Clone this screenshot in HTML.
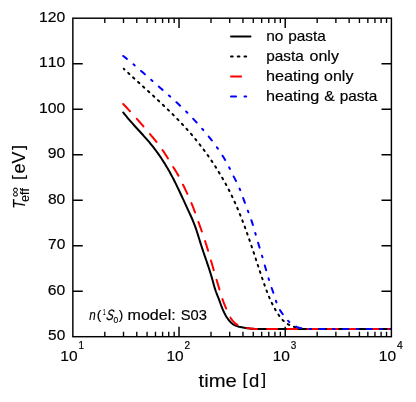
<!DOCTYPE html>
<html><head><meta charset="utf-8"><title>Teff vs time</title>
<style>html,body{margin:0;padding:0;background:#fff}svg{display:block;will-change:transform}text{font-family:"Liberation Sans",sans-serif;fill:#000;font-kerning:none;stroke:#000;stroke-width:0.18px}.big text{stroke-width:0.12px}</style>
</head><body>
<svg width="416" height="402" viewBox="0 0 416 402">
<rect x="0" y="0" width="416" height="402" fill="#fff"/>
<defs><clipPath id="ax"><rect x="72.85" y="18.2" width="318.54999999999995" height="318.5"/></clipPath></defs>
<g fill="none" stroke-width="2.0" stroke-linejoin="round" stroke-linecap="round" clip-path="url(#ax)">
<path d="M123.24,112.46 L124.08,113.54 L124.93,114.61 L125.78,115.67 L126.65,116.73 L127.52,117.77 L128.40,118.82 L129.29,119.85 L130.18,120.88 L131.08,121.91 L131.98,122.93 L132.89,123.94 L133.80,124.96 L134.72,125.97 L135.63,126.98 L136.55,127.99 L137.47,128.99 L138.39,130.00 L139.31,131.01 L140.23,132.01 L141.15,133.02 L142.07,134.03 L142.98,135.04 L143.89,136.05 L144.80,137.06 L145.71,138.08 L146.60,139.11 L147.50,140.13 L148.39,141.17 L149.27,142.21 L150.14,143.25 L151.00,144.30 L151.86,145.36 L152.71,146.42 L153.55,147.49 L154.38,148.57 L155.21,149.66 L156.02,150.75 L156.83,151.85 L157.63,152.95 L158.42,154.06 L159.20,155.18 L159.97,156.30 L160.74,157.43 L161.50,158.56 L162.25,159.70 L162.99,160.85 L163.72,162.00 L164.45,163.15 L165.17,164.31 L165.88,165.47 L166.58,166.64 L167.27,167.82 L167.96,168.99 L168.64,170.18 L169.31,171.36 L169.98,172.55 L170.63,173.75 L171.28,174.94 L171.92,176.14 L172.56,177.35 L173.19,178.56 L173.81,179.77 L174.43,180.98 L175.04,182.20 L175.65,183.42 L176.25,184.64 L176.85,185.86 L177.44,187.09 L178.03,188.32 L178.62,189.55 L179.20,190.78 L179.78,192.01 L180.35,193.25 L180.93,194.48 L181.50,195.72 L182.07,196.96 L182.64,198.19 L183.21,199.43 L183.78,200.67 L184.35,201.91 L184.92,203.15 L185.49,204.39 L186.06,205.63 L186.63,206.86 L187.20,208.10 L187.77,209.34 L188.35,210.57 L188.92,211.81 L189.50,213.05 L190.07,214.28 L190.63,215.52 L191.20,216.76 L191.75,218.01 L192.29,219.25 L192.83,220.50 L193.35,221.76 L193.86,223.02 L194.35,224.29 L194.83,225.56 L195.30,226.84 L195.75,228.12 L196.19,229.41 L196.62,230.70 L197.04,232.00 L197.45,233.29 L197.86,234.59 L198.27,235.89 L198.67,237.20 L199.07,238.50 L199.47,239.80 L199.87,241.11 L200.27,242.41 L200.68,243.71 L201.10,245.01 L201.52,246.31 L201.94,247.60 L202.37,248.90 L202.80,250.19 L203.23,251.48 L203.67,252.78 L204.11,254.07 L204.55,255.36 L204.99,256.64 L205.43,257.93 L205.88,259.22 L206.32,260.51 L206.76,261.80 L207.19,263.09 L207.63,264.38 L208.06,265.68 L208.49,266.97 L208.92,268.26 L209.34,269.56 L209.76,270.86 L210.17,272.16 L210.58,273.46 L210.97,274.76 L211.37,276.07 L211.75,277.37 L212.13,278.68 L212.50,280.00 L212.86,281.31 L213.21,282.63 L213.57,283.95 L213.93,285.26 L214.30,286.58 L214.69,287.88 L215.10,289.18 L215.54,290.47 L216.00,291.75 L216.49,293.02 L216.98,294.29 L217.48,295.56 L217.98,296.83 L218.47,298.11 L218.94,299.38 L219.42,300.66 L219.88,301.94 L220.35,303.23 L220.82,304.50 L221.30,305.78 L221.79,307.05 L222.29,308.32 L222.81,309.57 L223.36,310.82 L223.92,312.06 L224.52,313.29 L225.15,314.50 L225.81,315.69 L226.51,316.87 L227.26,318.02 L228.05,319.14 L228.89,320.24 L229.78,321.29 L230.72,322.30 L231.72,323.23 L232.79,324.07 L233.92,324.81 L235.12,325.42 L236.37,325.92 L237.67,326.33 L238.99,326.68 L240.33,326.98 L241.67,327.26 L243.02,327.52 L244.36,327.76 L245.71,327.98 L247.06,328.18 L248.41,328.35 L249.76,328.51 L251.11,328.65 L252.47,328.77 L253.82,328.87 L255.18,328.94 L256.54,329.00 L257.90,329.00 L259.27,329.00 L260.63,329.00 L262.00,329.00 L391.40,329.00" stroke="#000"/>
<path d="M123.80,68.80 L125.02,69.95 L126.24,71.09 L127.47,72.24 L128.70,73.38 L129.93,74.51 L131.16,75.65 L132.40,76.79 L133.64,77.92 L134.87,79.06 L136.11,80.19 L137.35,81.32 L138.60,82.45 L139.84,83.58 L141.08,84.71 L142.32,85.84 L143.57,86.97 L144.81,88.10 L146.05,89.23 L147.30,90.37 L148.54,91.50 L149.78,92.63 L151.02,93.77 L152.26,94.90 L153.50,96.04 L154.73,97.18 L155.97,98.32 L157.20,99.46 L158.43,100.61 L159.66,101.75 L160.88,102.90 L162.11,104.06 L163.33,105.21 L164.54,106.37 L165.76,107.53 L166.97,108.70 L168.18,109.86 L169.38,111.04 L170.58,112.21 L171.77,113.39 L172.97,114.58 L174.15,115.76 L175.33,116.96 L176.51,118.15 L177.68,119.36 L178.85,120.56 L180.01,121.78 L181.16,123.00 L182.31,124.22 L183.46,125.45 L184.59,126.68 L185.73,127.92 L186.85,129.17 L187.97,130.43 L189.08,131.69 L190.18,132.95 L191.28,134.22 L192.37,135.50 L193.45,136.79 L194.53,138.08 L195.60,139.38 L196.66,140.68 L197.71,141.99 L198.76,143.31 L199.80,144.63 L200.83,145.96 L201.85,147.29 L202.87,148.63 L203.88,149.97 L204.88,151.32 L205.87,152.68 L206.86,154.04 L207.84,155.41 L208.81,156.78 L209.77,158.16 L210.72,159.54 L211.67,160.93 L212.60,162.33 L213.53,163.73 L214.45,165.13 L215.37,166.54 L216.27,167.96 L217.17,169.38 L218.05,170.81 L218.93,172.24 L219.80,173.68 L220.66,175.12 L221.52,176.56 L222.36,178.01 L223.19,179.47 L224.02,180.93 L224.84,182.40 L225.65,183.87 L226.44,185.34 L227.23,186.82 L228.01,188.31 L228.78,189.80 L229.55,191.29 L230.30,192.79 L231.04,194.29 L231.78,195.80 L232.50,197.31 L233.21,198.82 L233.92,200.34 L234.62,201.87 L235.30,203.39 L235.98,204.92 L236.65,206.46 L237.32,208.00 L237.97,209.54 L238.62,211.09 L239.26,212.64 L239.89,214.19 L240.52,215.74 L241.14,217.30 L241.75,218.86 L242.36,220.43 L242.96,221.99 L243.55,223.56 L244.14,225.14 L244.73,226.71 L245.30,228.29 L245.88,229.87 L246.45,231.45 L247.01,233.03 L247.58,234.61 L248.13,236.20 L248.69,237.79 L249.24,239.38 L249.79,240.97 L250.33,242.56 L250.87,244.16 L251.41,245.75 L251.95,247.35 L252.48,248.95 L253.01,250.54 L253.55,252.14 L254.08,253.74 L254.61,255.34 L255.13,256.94 L255.66,258.54 L256.19,260.14 L256.71,261.74 L257.24,263.35 L257.77,264.95 L258.30,266.55 L258.82,268.15 L259.35,269.75 L259.88,271.35 L260.42,272.95 L260.95,274.54 L261.49,276.14 L262.02,277.74 L262.56,279.33 L263.11,280.93 L263.65,282.52 L264.21,284.11 L264.77,285.70 L265.34,287.28 L265.91,288.86 L266.50,290.43 L267.10,292.00 L267.71,293.56 L268.34,295.11 L268.98,296.66 L269.64,298.20 L270.31,299.73 L271.01,301.25 L271.72,302.76 L272.45,304.26 L273.21,305.75 L273.99,307.23 L274.80,308.70 L275.63,310.15 L276.49,311.59 L277.38,313.02 L278.29,314.43 L279.24,315.83 L280.23,317.19 L281.28,318.51 L282.39,319.77 L283.59,320.94 L284.86,322.03 L286.21,323.03 L287.62,323.94 L289.09,324.77 L290.61,325.51 L292.16,326.17 L293.75,326.76 L295.36,327.26 L296.98,327.70 L298.62,328.07 L300.28,328.38 L301.94,328.62 L303.61,328.81 L305.29,328.94 L306.97,329.00 L308.65,329.00 L310.32,329.00 L312.00,329.00 L391.40,329.00" stroke="#000" stroke-dasharray="1.69 5.05" stroke-dashoffset="0.8"/>
<path d="M123.20,104.00 L124.17,105.01 L125.13,106.02 L126.09,107.04 L127.04,108.05 L127.99,109.07 L128.94,110.10 L129.89,111.12 L130.83,112.15 L131.77,113.18 L132.71,114.22 L133.64,115.25 L134.58,116.29 L135.51,117.33 L136.43,118.37 L137.36,119.42 L138.28,120.46 L139.20,121.51 L140.12,122.56 L141.03,123.61 L141.95,124.67 L142.86,125.72 L143.77,126.78 L144.68,127.84 L145.59,128.90 L146.49,129.96 L147.40,131.02 L148.30,132.08 L149.21,133.15 L150.11,134.21 L151.01,135.28 L151.90,136.35 L152.80,137.42 L153.69,138.49 L154.58,139.57 L155.46,140.65 L156.33,141.73 L157.20,142.83 L158.06,143.92 L158.91,145.03 L159.75,146.14 L160.57,147.26 L161.39,148.39 L162.20,149.53 L162.99,150.67 L163.77,151.83 L164.53,153.00 L165.29,154.17 L166.04,155.35 L166.78,156.53 L167.52,157.72 L168.25,158.91 L168.98,160.10 L169.70,161.30 L170.43,162.49 L171.15,163.69 L171.88,164.88 L172.61,166.07 L173.34,167.26 L174.08,168.44 L174.81,169.63 L175.55,170.81 L176.28,172.00 L177.00,173.19 L177.70,174.38 L178.40,175.59 L179.07,176.81 L179.72,178.03 L180.36,179.27 L180.98,180.51 L181.60,181.76 L182.21,183.02 L182.81,184.27 L183.41,185.53 L184.02,186.79 L184.62,188.05 L185.22,189.31 L185.82,190.57 L186.42,191.83 L187.01,193.09 L187.60,194.36 L188.19,195.62 L188.76,196.90 L189.33,198.17 L189.90,199.45 L190.45,200.73 L190.99,202.01 L191.53,203.30 L192.05,204.59 L192.57,205.89 L193.07,207.19 L193.57,208.49 L194.07,209.80 L194.55,211.11 L195.03,212.42 L195.51,213.73 L195.98,215.04 L196.45,216.36 L196.92,217.67 L197.39,218.99 L197.86,220.30 L198.32,221.62 L198.79,222.93 L199.26,224.25 L199.73,225.56 L200.20,226.88 L200.66,228.19 L201.13,229.51 L201.59,230.82 L202.06,232.14 L202.52,233.45 L202.97,234.77 L203.43,236.09 L203.87,237.41 L204.32,238.73 L204.76,240.06 L205.19,241.38 L205.62,242.71 L206.05,244.03 L206.47,245.36 L206.88,246.70 L207.30,248.03 L207.70,249.36 L208.11,250.70 L208.51,252.03 L208.91,253.37 L209.30,254.71 L209.69,256.05 L210.08,257.39 L210.47,258.73 L210.86,260.07 L211.24,261.41 L211.63,262.75 L212.01,264.10 L212.40,265.44 L212.78,266.78 L213.16,268.12 L213.55,269.47 L213.93,270.81 L214.32,272.15 L214.71,273.49 L215.10,274.83 L215.49,276.17 L215.88,277.51 L216.28,278.85 L216.67,280.19 L217.08,281.53 L217.48,282.86 L217.88,284.20 L218.29,285.53 L218.69,286.87 L219.09,288.21 L219.49,289.55 L219.88,290.88 L220.27,292.22 L220.67,293.56 L221.07,294.90 L221.48,296.23 L221.91,297.55 L222.36,298.87 L222.82,300.17 L223.31,301.48 L223.81,302.77 L224.32,304.06 L224.84,305.35 L225.36,306.64 L225.89,307.93 L226.42,309.21 L226.95,310.50 L227.49,311.79 L228.05,313.07 L228.64,314.33 L229.27,315.58 L229.94,316.81 L230.68,318.02 L231.47,319.19 L232.32,320.31 L233.23,321.39 L234.20,322.40 L235.22,323.34 L236.31,324.19 L237.46,324.95 L238.67,325.61 L239.94,326.18 L241.24,326.66 L242.58,327.08 L243.94,327.43 L245.32,327.72 L246.71,327.98 L248.09,328.21 L249.48,328.40 L250.86,328.56 L252.25,328.70 L253.64,328.80 L255.03,328.89 L256.42,328.95 L257.81,328.99 L259.21,329.00 L260.60,329.00 L262.00,329.00 L391.40,329.00" stroke="#f00" stroke-dasharray="10.10 10.10" stroke-dashoffset="0.1"/>
<path d="M123.22,55.97 L124.60,57.05 L125.98,58.13 L127.34,59.23 L128.70,60.34 L130.05,61.45 L131.40,62.57 L132.74,63.70 L134.07,64.83 L135.40,65.97 L136.72,67.11 L138.04,68.26 L139.35,69.41 L140.67,70.56 L141.98,71.72 L143.29,72.87 L144.59,74.04 L145.90,75.20 L147.21,76.36 L148.51,77.52 L149.82,78.68 L151.13,79.84 L152.44,81.00 L153.75,82.16 L155.07,83.31 L156.38,84.47 L157.70,85.62 L159.02,86.77 L160.34,87.92 L161.65,89.08 L162.97,90.23 L164.29,91.39 L165.60,92.54 L166.92,93.70 L168.23,94.86 L169.54,96.03 L170.84,97.19 L172.15,98.36 L173.45,99.53 L174.74,100.71 L176.03,101.89 L177.32,103.08 L178.60,104.27 L179.88,105.47 L181.15,106.67 L182.41,107.88 L183.67,109.09 L184.92,110.31 L186.17,111.54 L187.40,112.78 L188.63,114.02 L189.85,115.27 L191.07,116.53 L192.28,117.80 L193.47,119.07 L194.67,120.35 L195.85,121.64 L197.03,122.93 L198.20,124.23 L199.37,125.53 L200.52,126.84 L201.68,128.16 L202.82,129.48 L203.96,130.81 L205.09,132.15 L206.22,133.49 L207.33,134.83 L208.44,136.19 L209.54,137.55 L210.63,138.92 L211.71,140.29 L212.77,141.68 L213.83,143.07 L214.88,144.47 L215.91,145.88 L216.93,147.30 L217.94,148.73 L218.93,150.17 L219.91,151.62 L220.87,153.07 L221.82,154.54 L222.75,156.02 L223.67,157.51 L224.57,159.01 L225.45,160.52 L226.31,162.04 L227.15,163.57 L227.98,165.11 L228.78,166.66 L229.57,168.22 L230.34,169.79 L231.10,171.36 L231.86,172.94 L232.63,174.50 L233.43,176.06 L234.25,177.61 L235.08,179.15 L235.91,180.69 L236.71,182.24 L237.47,183.81 L238.20,185.40 L238.91,186.99 L239.58,188.60 L240.24,190.22 L240.88,191.85 L241.50,193.48 L242.11,195.12 L242.71,196.77 L243.31,198.41 L243.90,200.06 L244.50,201.71 L245.10,203.35 L245.70,204.99 L246.32,206.63 L246.94,208.27 L247.55,209.91 L248.17,211.55 L248.79,213.19 L249.40,214.83 L250.00,216.47 L250.60,218.11 L251.18,219.76 L251.75,221.41 L252.31,223.07 L252.85,224.73 L253.37,226.40 L253.88,228.08 L254.37,229.76 L254.85,231.44 L255.32,233.12 L255.79,234.81 L256.27,236.49 L256.74,238.18 L257.22,239.85 L257.71,241.53 L258.22,243.20 L258.73,244.86 L259.25,246.53 L259.76,248.19 L260.27,249.86 L260.77,251.53 L261.27,253.20 L261.76,254.88 L262.25,256.56 L262.73,258.24 L263.22,259.92 L263.70,261.60 L264.18,263.29 L264.66,264.97 L265.13,266.66 L265.61,268.35 L266.10,270.03 L266.58,271.72 L267.07,273.40 L267.56,275.09 L268.06,276.77 L268.56,278.45 L269.07,280.12 L269.60,281.78 L270.13,283.44 L270.67,285.09 L271.23,286.73 L271.80,288.37 L272.38,290.00 L272.95,291.63 L273.50,293.29 L274.04,294.96 L274.57,296.64 L275.10,298.33 L275.65,300.01 L276.22,301.69 L276.82,303.35 L277.46,304.98 L278.16,306.58 L278.92,308.15 L279.76,309.67 L280.66,311.14 L281.63,312.59 L282.63,314.02 L283.67,315.45 L284.74,316.86 L285.84,318.25 L286.99,319.60 L288.19,320.89 L289.44,322.12 L290.76,323.27 L292.13,324.33 L293.58,325.29 L295.10,326.13 L296.70,326.85 L298.36,327.45 L300.06,327.94 L301.78,328.33 L303.52,328.61 L305.26,328.82 L307.00,328.95 L308.75,329.00 L310.51,329.00 L312.25,329.00 L314.00,329.00 L391.40,329.00" stroke="#00f" stroke-dasharray="5.05 8.43 1.69 8.43" stroke-dashoffset="0.3"/>
</g>
<rect x="72.85" y="18.2" width="318.54999999999995" height="318.5" fill="none" stroke="#000" stroke-width="1.45"/>
<path d="M179.03,336.7v-9.9M179.03,18.2v9.9M285.22,336.7v-9.9M285.22,18.2v9.9M72.85,291.20h9.9M391.4,291.20h-9.9M72.85,245.70h9.9M391.4,245.70h-9.9M72.85,200.20h9.9M391.4,200.20h-9.9M72.85,154.70h9.9M391.4,154.70h-9.9M72.85,109.20h9.9M391.4,109.20h-9.9M72.85,63.70h9.9M391.4,63.70h-9.9" stroke="#000" stroke-width="1.45" fill="none"/>
<path d="M104.81,336.7v-4.9M104.81,18.2v4.9M123.51,336.7v-4.9M123.51,18.2v4.9M136.78,336.7v-4.9M136.78,18.2v4.9M147.07,336.7v-4.9M147.07,18.2v4.9M155.48,336.7v-4.9M155.48,18.2v4.9M162.59,336.7v-4.9M162.59,18.2v4.9M168.74,336.7v-4.9M168.74,18.2v4.9M174.17,336.7v-4.9M174.17,18.2v4.9M211.00,336.7v-4.9M211.00,18.2v4.9M229.70,336.7v-4.9M229.70,18.2v4.9M242.96,336.7v-4.9M242.96,18.2v4.9M253.25,336.7v-4.9M253.25,18.2v4.9M261.66,336.7v-4.9M261.66,18.2v4.9M268.77,336.7v-4.9M268.77,18.2v4.9M274.93,336.7v-4.9M274.93,18.2v4.9M280.36,336.7v-4.9M280.36,18.2v4.9M317.18,336.7v-4.9M317.18,18.2v4.9M335.88,336.7v-4.9M335.88,18.2v4.9M349.15,336.7v-4.9M349.15,18.2v4.9M359.44,336.7v-4.9M359.44,18.2v4.9M367.84,336.7v-4.9M367.84,18.2v4.9M374.95,336.7v-4.9M374.95,18.2v4.9M381.11,336.7v-4.9M381.11,18.2v4.9M386.54,336.7v-4.9M386.54,18.2v4.9" stroke="#000" stroke-width="1.35" fill="none"/>
<text x="48.13" y="340.30" font-size="15.0" textLength="17.14" lengthAdjust="spacingAndGlyphs">50</text>
<text x="47.85" y="294.80" font-size="15.0" textLength="17.43" lengthAdjust="spacingAndGlyphs">60</text>
<text x="48.02" y="249.30" font-size="15.0" textLength="17.25" lengthAdjust="spacingAndGlyphs">70</text>
<text x="47.94" y="203.80" font-size="15.0" textLength="17.33" lengthAdjust="spacingAndGlyphs">80</text>
<text x="47.81" y="158.30" font-size="15.0" textLength="17.47" lengthAdjust="spacingAndGlyphs">90</text>
<text x="39.04" y="112.80" font-size="15.0" textLength="26.24" lengthAdjust="spacingAndGlyphs">100</text>
<text x="39.04" y="67.30" font-size="15.0" textLength="26.24" lengthAdjust="spacingAndGlyphs">110</text>
<text x="39.04" y="21.80" font-size="15.0" textLength="26.24" lengthAdjust="spacingAndGlyphs">120</text>
<text x="60.32" y="360.60" font-size="15.0" textLength="17.24" lengthAdjust="spacingAndGlyphs">10</text>
<text x="78.43" y="348.50" font-size="10.5" textLength="5.53" lengthAdjust="spacingAndGlyphs">1</text>
<text x="166.50" y="360.60" font-size="15.0" textLength="17.24" lengthAdjust="spacingAndGlyphs">10</text>
<text x="184.50" y="348.50" font-size="10.5" textLength="5.58" lengthAdjust="spacingAndGlyphs">2</text>
<text x="272.68" y="360.60" font-size="15.0" textLength="17.24" lengthAdjust="spacingAndGlyphs">10</text>
<text x="290.84" y="348.50" font-size="10.5" textLength="5.56" lengthAdjust="spacingAndGlyphs">3</text>
<text x="378.87" y="360.60" font-size="15.0" textLength="17.24" lengthAdjust="spacingAndGlyphs">10</text>
<text x="396.89" y="348.50" font-size="10.5" textLength="5.79" lengthAdjust="spacingAndGlyphs">4</text>
<g class="big">
<text x="198.55" y="386.50" font-size="17.8" textLength="38.25" lengthAdjust="spacingAndGlyphs">time</text>
<text x="242.41" y="385.37" font-size="16.26" textLength="4.92" lengthAdjust="spacingAndGlyphs">[</text>
<text x="249.01" y="386.50" font-size="17.8" textLength="10.28" lengthAdjust="spacingAndGlyphs">d</text>
<text x="261.15" y="385.37" font-size="16.26" textLength="4.92" lengthAdjust="spacingAndGlyphs">]</text>
</g>
<g transform="translate(24.75,207.5) rotate(-90)" class="big">
<text x="-1.19" y="0.00" font-size="16.6" font-style="italic" textLength="8.91" lengthAdjust="spacingAndGlyphs">T</text>
<text x="5.49" y="4.10" font-size="12.3" textLength="13.87" lengthAdjust="spacingAndGlyphs">eff</text>
<text x="10.52" y="-5.60" font-size="12.3" textLength="10.06" lengthAdjust="spacingAndGlyphs">∞</text>
<text x="27.50" y="-1.13" font-size="16.26" textLength="4.92" lengthAdjust="spacingAndGlyphs">[</text>
<text x="34.11" y="0.00" font-size="17.8" textLength="21.85" lengthAdjust="spacingAndGlyphs">eV</text>
<text x="57.53" y="-1.13" font-size="16.26" textLength="4.92" lengthAdjust="spacingAndGlyphs">]</text>
</g>
<g fill="none" stroke-width="2.0" stroke-linecap="round">
<path d="M231,36.45H250.5" stroke="#000"/>
<path d="M231,56.5H250.5" stroke="#000" stroke-dasharray="1.69 5.05"/>
<path d="M231,76.4H250.5" stroke="#f00" stroke-dasharray="10.10 10.10"/>
<path d="M231,96.5H250.5" stroke="#00f" stroke-dasharray="5.05 8.43 1.69 8.43"/>
</g>
<text x="266.15" y="40.60" font-size="15.0" textLength="17.19" lengthAdjust="spacingAndGlyphs">no</text>
<text x="288.24" y="40.60" font-size="15.0" textLength="37.53" lengthAdjust="spacingAndGlyphs">pasta</text>
<text x="266.19" y="61.00" font-size="15.0" textLength="37.53" lengthAdjust="spacingAndGlyphs">pasta</text>
<text x="309.59" y="61.00" font-size="15.0" textLength="29.33" lengthAdjust="spacingAndGlyphs">only</text>
<text x="266.06" y="80.90" font-size="15.0" textLength="53.19" lengthAdjust="spacingAndGlyphs">heating</text>
<text x="324.07" y="80.90" font-size="15.0" textLength="29.33" lengthAdjust="spacingAndGlyphs">only</text>
<text x="266.06" y="101.00" font-size="15.0" textLength="53.19" lengthAdjust="spacingAndGlyphs">heating</text>
<text x="324.30" y="101.00" font-size="15.0" textLength="10.47" lengthAdjust="spacingAndGlyphs">&amp;</text>
<text x="339.73" y="101.00" font-size="15.0" textLength="37.53" lengthAdjust="spacingAndGlyphs">pasta</text>
<text x="89.33" y="319.75" font-size="15.0" font-style="italic" textLength="6.48" lengthAdjust="spacingAndGlyphs">n</text>
<text x="96.76" y="318.85" font-size="13.5" textLength="4.60" lengthAdjust="spacingAndGlyphs">(</text>
<text x="102.97" y="315.35" font-size="9.2" textLength="2.53" lengthAdjust="spacingAndGlyphs">1</text>
<text transform="translate(0,319.75) skewX(-9) translate(0,-319.75)" x="105.80" y="319.75" font-size="15.0" font-style="italic" textLength="7.50" lengthAdjust="spacingAndGlyphs">S</text>
<text x="113.59" y="322.55" font-size="9.8" textLength="4.72" lengthAdjust="spacingAndGlyphs">0</text>
<text x="118.74" y="318.85" font-size="13.5" textLength="4.47" lengthAdjust="spacingAndGlyphs">)</text>
<text x="127.51" y="319.75" font-size="15.0" textLength="48.26" lengthAdjust="spacingAndGlyphs">model:</text>
<text x="180.70" y="319.75" font-size="15.0" textLength="26.15" lengthAdjust="spacingAndGlyphs">S03</text>
</svg>
</body></html>
